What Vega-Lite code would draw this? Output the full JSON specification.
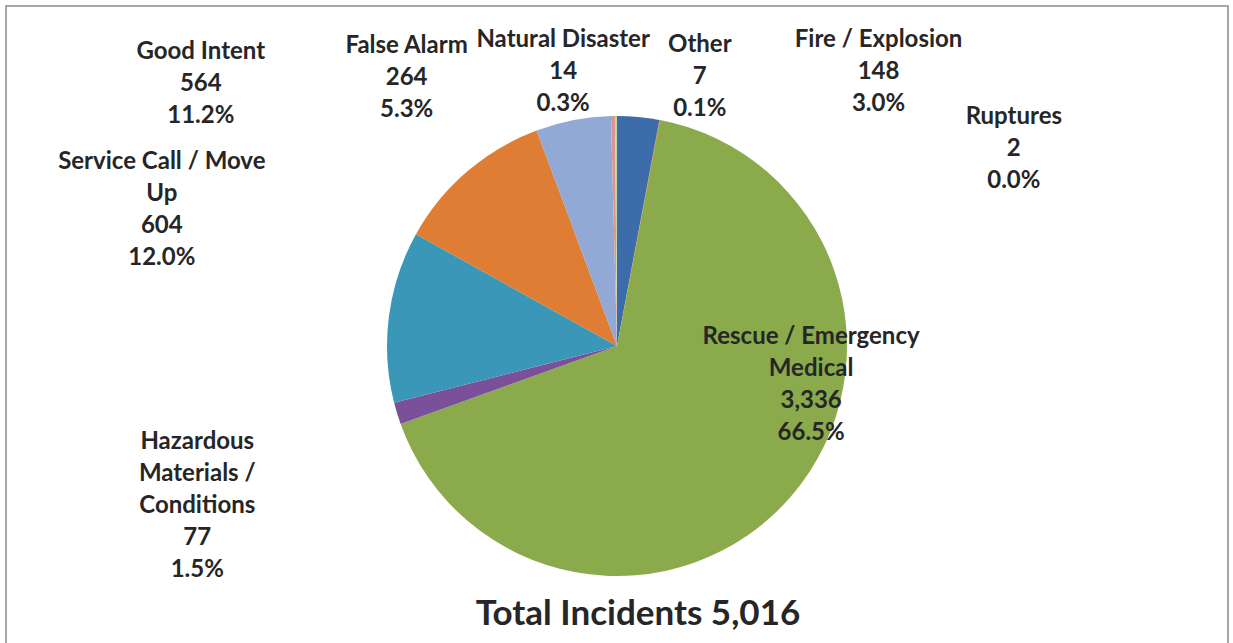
{
  "$schema": "https://vega.github.io/schema/vega-lite/v6.json",
  "width": 1222,
  "height": 680,
  "autosize": {"type": "none"},
  "padding": {"left": 6, "top": 6, "right": 5, "bottom": 0},
  "background": "white",
  "view": {"stroke": "#a6a6a6", "strokeWidth": 2},
  "title": {
    "text": "Total Incidents 5,016",
    "orient": "bottom",
    "offset": -89,
    "dx": 21,
    "fontSize": 35,
    "font": "Lato",
    "fontWeight": "bold",
    "color": "#262626"
  },
  "data": {
    "values": [
      {"category": "Fire / Explosion", "value": 148, "order": 1, "label": ["Fire / Explosion", "148", "3.0%"]},
      {"category": "Ruptures", "value": 2, "order": 2, "label": ["Ruptures", "2", "0.0%"]},
      {"category": "Rescue / Emergency Medical", "value": 3336, "order": 3, "label": ["Rescue / Emergency", "Medical", "3,336", "66.5%"]},
      {"category": "Hazardous Materials / Conditions", "value": 77, "order": 4, "label": ["Hazardous", "Materials /", "Conditions", "77", "1.5%"]},
      {"category": "Service Call / Move Up", "value": 604, "order": 5, "label": ["Service Call / Move", "Up", "604", "12.0%"]},
      {"category": "Good Intent", "value": 564, "order": 6, "label": ["Good Intent", "564", "11.2%"]},
      {"category": "False Alarm", "value": 264, "order": 7, "label": ["False Alarm", "264", "5.3%"]},
      {"category": "Natural Disaster", "value": 14, "order": 8, "label": ["Natural Disaster", "14", "0.3%"]},
      {"category": "Other", "value": 7, "order": 9, "label": ["Other", "7", "0.1%"]}
    ]
  },
  "transform": [
    {"window": [{"op": "sum", "field": "value", "as": "cum"}], "sort": [{"field": "order"}]},
    {"calculate": "datum.cum - datum.value / 2", "as": "mid"}
  ],
  "layer": [
    {
      "mark": {"type": "arc", "outerRadius": 230, "stroke": null},
      "encoding": {
        "theta": {"field": "value", "type": "quantitative", "stack": true},
        "order": {"field": "order", "type": "quantitative"},
        "color": {
          "field": "category",
          "type": "nominal",
          "legend": null,
          "scale": {
            "domain": ["Fire / Explosion", "Ruptures", "Rescue / Emergency Medical", "Hazardous Materials / Conditions", "Service Call / Move Up", "Good Intent", "False Alarm", "Natural Disaster", "Other"],
            "range": ["#3d6caa", "#c0504d", "#8aaa4c", "#7b509b", "#3a97b7", "#e07d34", "#93a9d5", "#d99694", "#c3d69b"]
          }
        }
      }
    },
    {
      "transform": [{"filter": "datum.category === 'Fire / Explosion'"}],
      "mark": {"type": "text", "radius": 276, "dx": 236, "dy": -31},
      "encoding": {"theta": {"field": "mid", "type": "quantitative", "stack": null}, "text": {"field": "label"}}
    },
    {
      "transform": [{"filter": "datum.category === 'Ruptures'"}],
      "mark": {"type": "text", "radius": 220, "dx": 356, "dy": -13},
      "encoding": {"theta": {"field": "mid", "type": "quantitative", "stack": null}, "text": {"field": "label"}}
    },
    {
      "transform": [{"filter": "datum.category === 'Other'"}],
      "mark": {"type": "text", "radius": 271, "dx": 84, "dy": -30},
      "encoding": {"theta": {"field": "mid", "type": "quantitative", "stack": null}, "text": {"field": "label"}}
    },
    {
      "transform": [{"filter": "datum.category === 'Natural Disaster'"}],
      "mark": {"type": "text", "radius": 276, "dx": -49, "dy": -30},
      "encoding": {"theta": {"field": "mid", "type": "quantitative", "stack": null}, "text": {"field": "label"}}
    },
    {
      "transform": [{"filter": "datum.category === 'False Alarm'"}],
      "mark": {"type": "text", "radius": 275, "dx": -158, "dy": -30},
      "encoding": {"theta": {"field": "mid", "type": "quantitative", "stack": null}, "text": {"field": "label"}}
    },
    {
      "transform": [{"filter": "datum.category === 'Good Intent'"}],
      "mark": {"type": "text", "radius": 350, "dx": -188, "dy": -29},
      "encoding": {"theta": {"field": "mid", "type": "quantitative", "stack": null}, "text": {"field": "label"}}
    },
    {
      "transform": [{"filter": "datum.category === 'Service Call / Move Up'"}],
      "mark": {"type": "text", "radius": 459, "dx": 0, "dy": -125},
      "encoding": {"theta": {"field": "mid", "type": "quantitative", "stack": null}, "text": {"field": "label"}}
    },
    {
      "transform": [{"filter": "datum.category === 'Hazardous Materials / Conditions'"}],
      "mark": {"type": "text", "radius": 439, "dx": 0, "dy": -33},
      "encoding": {"theta": {"field": "mid", "type": "quantitative", "stack": null}, "text": {"field": "label"}}
    },
    {
      "transform": [{"filter": "datum.category === 'Rescue / Emergency Medical'"}],
      "mark": {"type": "text", "radius": 150, "dx": 80, "dy": -106},
      "encoding": {"theta": {"field": "mid", "type": "quantitative", "stack": null}, "text": {"field": "label"}}
    }
  ],
  "config": {
    "text": {"font": "Lato", "fontSize": 24, "fontWeight": "bold", "color": "#262626", "lineHeight": 32, "align": "center", "baseline": "middle"}
  }
}
